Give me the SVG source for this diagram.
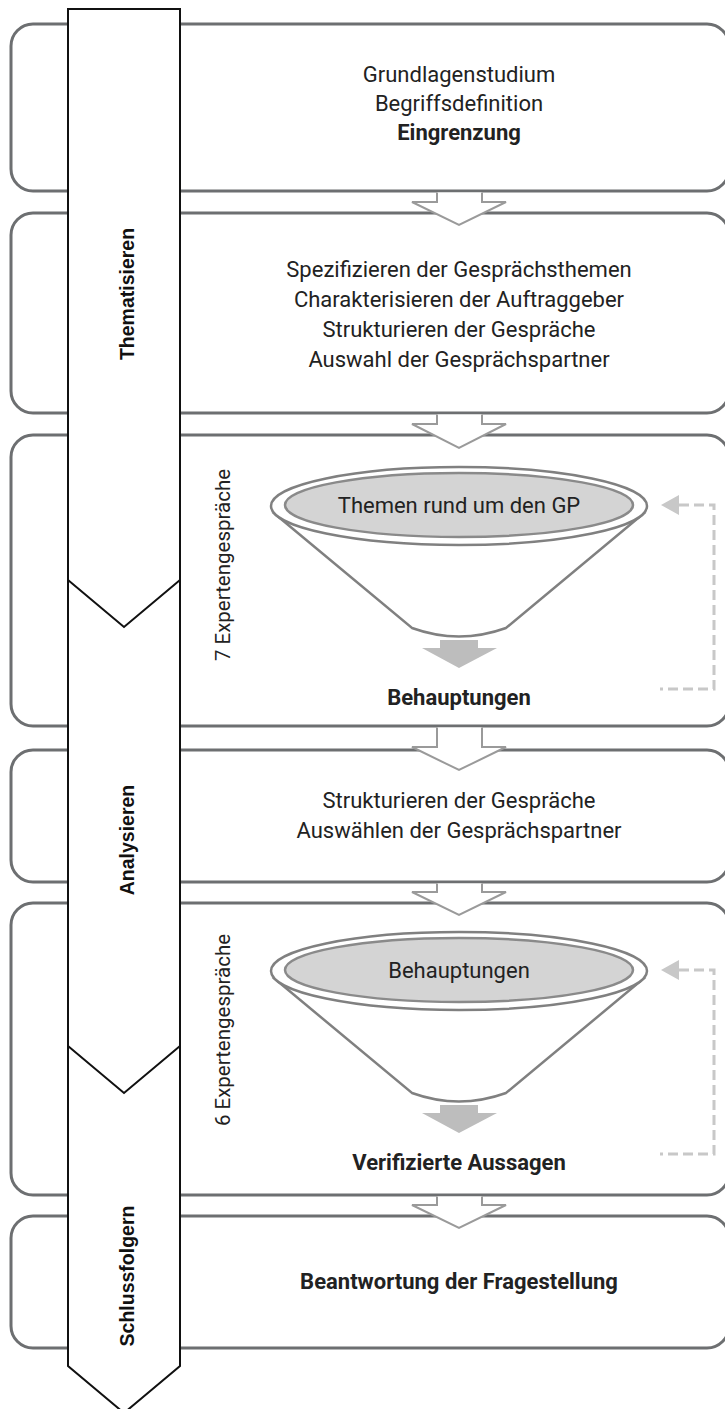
<svg xmlns="http://www.w3.org/2000/svg" width="725" height="1409" viewBox="0 0 725 1409">
<style>
.box{fill:#fff;stroke:#6d6f71;stroke-width:3}
.band{fill:#fff;stroke:#111;stroke-width:2}
.chev{fill:none;stroke:#111;stroke-width:2}
.harrow{fill:#fff;stroke:none}
.harrowline{fill:none;stroke:#9a9a9a;stroke-width:2}
.funnel{fill:#fff;stroke:#808080;stroke-width:2.5}
.outer{fill:#fff;stroke:#808080;stroke-width:2.5}
.inner{fill:#d4d4d4;stroke:#8a8a8a;stroke-width:2.5}
.garrow{fill:#bdbdbd}
.dash{fill:none;stroke:#c8c8c8;stroke-width:3;stroke-dasharray:10 5}
.dhead{fill:#c8c8c8}
.t{font-family:Roboto,"Liberation Sans",sans-serif;font-size:22px;fill:#222;text-anchor:middle}
.b{font-weight:bold;font-size:22px}
.lbl{font-family:"Liberation Sans",Arial,sans-serif;font-weight:bold;font-size:19.5px;fill:#111;text-anchor:middle}
.rt{font-family:Roboto,"Liberation Sans",sans-serif;font-size:20.5px;fill:#222;text-anchor:middle}
</style>

<g id="box1"><rect class="box" x="11" y="24" width="718" height="167" rx="22"/></g>
<g id="box2"><rect class="box" x="11" y="213" width="718" height="200" rx="22"/></g>
<g id="box3"><rect class="box" x="11" y="435" width="718" height="291" rx="22"/></g>
<g id="box4"><rect class="box" x="11" y="750" width="718" height="132" rx="22"/></g>
<g id="box5"><rect class="box" x="11" y="903" width="718" height="292" rx="22"/></g>
<g id="box6"><rect class="box" x="11" y="1216" width="718" height="132" rx="22"/></g>

<g id="band">
<path class="band" d="M68,9 H180 V1366 L124,1413 L68,1366 Z"/>
<polyline class="chev" points="68,580 124,627 180,580"/>
<polyline class="chev" points="68,1046 124,1093 180,1046"/>
<text class="lbl" transform="translate(134,294) rotate(-90)">Thematisieren</text>
<text class="lbl" transform="translate(134,840) rotate(-90)">Analysieren</text>
<text class="lbl" transform="translate(134,1276) rotate(-90)">Schlussfolgern</text>
</g>

<g id="connectors">
<polygon class="harrow" points="437,192.5 437,202 412,202 459,225 506,202 482,202 482,192.5"/>
<polyline class="harrowline" points="437,192.5 437,202 412,202 459,225 506,202 482,202 482,192.5"/>
<polygon class="harrow" points="437,414.5 437,424 412,424 459,448 506,424 482,424 482,414.5"/>
<polyline class="harrowline" points="437,414.5 437,424 412,424 459,448 506,424 482,424 482,414.5"/>
<polygon class="harrow" points="437,727.5 437,747 412,747 459,770 506,747 482,747 482,727.5"/>
<polyline class="harrowline" points="437,727.5 437,747 412,747 459,770 506,747 482,747 482,727.5"/>
<polygon class="harrow" points="437,883.5 437,892 412,892 459,915 506,892 482,892 482,883.5"/>
<polyline class="harrowline" points="437,883.5 437,892 412,892 459,915 506,892 482,892 482,883.5"/>
<polygon class="harrow" points="437,1196.5 437,1205 412,1205 459,1228 506,1205 482,1205 482,1196.5"/>
<polyline class="harrowline" points="437,1196.5 437,1205 412,1205 459,1228 506,1205 482,1205 482,1196.5"/>

<path class="dash" d="M679,505 H714 V689 H660"/>
<polygon class="dhead" points="661,505 679,495 679,515"/>
<path class="dash" d="M679,970 H714 V1154 H660"/>
<polygon class="dhead" points="661,970 679,960 679,980"/>
</g>

<g id="text1">
<text class="t" x="459" y="82">Grundlagenstudium</text>
<text class="t" x="459" y="111">Begriffsdefinition</text>
<text class="t b" x="459" y="140">Eingrenzung</text>
</g>
<g id="text2">
<text class="t" x="459" y="277">Spezifizieren der Gesprächsthemen</text>
<text class="t" x="459" y="307">Charakterisieren der Auftraggeber</text>
<text class="t" x="459" y="337">Strukturieren der Gespräche</text>
<text class="t" x="459" y="367">Auswahl der Gesprächspartner</text>
</g>

<g id="funnel1">
<path class="funnel" d="M275,514 L412,628 Q459,645 506,628 L643,514 Z"/>
<ellipse class="outer" cx="459" cy="506" rx="188" ry="39"/>
<ellipse class="inner" cx="459" cy="505" rx="174" ry="32"/>
<text class="t" x="459" y="513">Themen rund um den GP</text>
<polygon class="garrow" points="440,640 478,640 478,648 497,648 459,668 422,648 440,648"/>
<text class="t b" x="459" y="705">Behauptungen</text>
<text class="rt" transform="translate(230,565) rotate(-90)">7 Expertengespräche</text>
</g>

<g id="text4">
<text class="t" x="459" y="808">Strukturieren der Gespräche</text>
<text class="t" x="459" y="838">Auswählen der Gesprächspartner</text>
</g>

<g id="funnel2">
<path class="funnel" d="M275,979 L412,1093 Q459,1110 506,1093 L643,979 Z"/>
<ellipse class="outer" cx="459" cy="971" rx="188" ry="39"/>
<ellipse class="inner" cx="459" cy="970" rx="174" ry="32"/>
<text class="t" x="459" y="978">Behauptungen</text>
<polygon class="garrow" points="440,1105 478,1105 478,1113 497,1113 459,1133 422,1113 440,1113"/>
<text class="t b" x="459" y="1170">Verifizierte Aussagen</text>
<text class="rt" transform="translate(230,1030) rotate(-90)">6 Expertengespräche</text>
</g>

<g id="text6">
<text class="t b" x="459" y="1289">Beantwortung der Fragestellung</text>
</g>
</svg>
